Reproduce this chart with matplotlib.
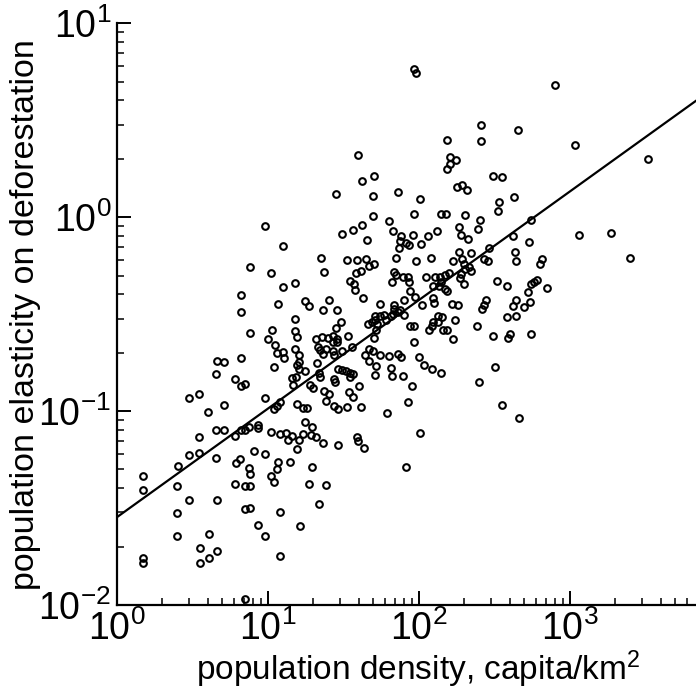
import matplotlib
matplotlib.use("Agg")
import matplotlib.pyplot as plt
import numpy as np
from matplotlib.ticker import LogLocator, NullFormatter, FixedFormatter, FixedLocator

plt.rcParams['font.family'] = ['Liberation Sans', 'DejaVu Sans']
plt.rcParams['mathtext.fontset'] = 'custom'
plt.rcParams['mathtext.rm'] = 'Liberation Sans'
plt.rcParams['mathtext.default'] = 'regular'

# values, stored as log10
# upper right cloud
logdens_1 = [1.596, 1.702, 1.626, 1.454, 1.695, 1.861, 1.695, 1.803, 1.971, 1.980,
             2.903, 2.413, 2.656, 2.185, 2.413, 3.035, 3.521, 2.207, 2.245, 2.207,
             2.189, 2.494, 2.554, 2.011, 2.256, 2.287, 2.318, 2.629, 2.532, 2.523,
             1.969, 2.148, 2.179, 2.307, 2.406, 2.742, 2.623, 2.730, 3.064, 3.272,
             3.401, 2.638, 2.646, 2.819, 2.801, 2.521, 2.587, 2.744, 2.766, 2.785,
             2.850, 2.726, 2.646, 2.735, 2.623, 2.697, 2.585, 2.644, 2.492, 2.607,
             2.591, 2.746, 2.505, 2.550, 2.664]
logelas_1 = [0.323, 0.215, 0.188, 0.121, 0.110, 0.132, 0.004, -0.022, 0.765, 0.744,
             0.682, 0.474, 0.452, 0.397, 0.395, 0.373, 0.301, 0.313, 0.297, 0.272,
             0.251, 0.211, 0.208, 0.095, 0.157, 0.167, 0.138, 0.105, 0.079, 0.031,
             0.018, 0.019, 0.015, 0.012, -0.012, -0.017, -0.098, -0.129, -0.091, -0.080,
             -0.209, -0.180, -0.228, -0.214, -0.240, -0.328, -0.356, -0.343, -0.333, -0.326,
             -0.366, -0.385, -0.429, -0.435, -0.460, -0.465, -0.517, -0.512, -0.613, -0.603,
             -0.624, -0.601, -0.775, -0.971, -1.038]

# left part
logdens_2 = [0.980, 1.099, 0.883, 1.024, 1.183, 1.101, 0.823, 1.066, 0.821, 1.183,
             0.883, 1.026, 1.179, 1.194, 1.005, 1.046, 1.062, 1.101, 1.106, 1.181,
             0.662, 0.711, 0.823, 1.044, 1.204, 1.191, 1.207, 0.660, 0.785, 0.823,
             0.852, 1.185, 1.161, 1.166, 0.481, 0.547, 0.980, 0.709, 1.194, 0.607,
             1.081, 1.062, 1.044, 0.660, 0.709, 0.821, 0.848, 0.878, 0.936, 0.938,
             0.785, 0.547, 1.024, 1.081, 1.119, 1.163, 1.132, 1.204, 0.481, 0.547,
             0.660, 0.907, 0.980, 0.787, 0.819, 1.066, 1.150, 0.404, 0.176, 0.176,
             0.401, 0.481, 0.662, 0.401, 0.401, 0.552, 0.609, 0.552, 0.609, 0.662,
             0.176, 0.176, 0.785, 0.850, 0.883, 0.878, 0.881, 0.850, 0.883, 0.936,
             0.980, 1.024, 1.044, 1.064, 1.083, 1.217, 1.083, 0.852, 1.293, 1.272,
             1.386, 1.342, 1.918]
logelas_2 = [-0.046, -0.151, -0.258, -0.287, -0.340, -0.362, -0.402, -0.446, -0.491, -0.527,
             -0.598, -0.582, -0.588, -0.620, -0.628, -0.658, -0.699, -0.696, -0.727, -0.680,
             -0.740, -0.747, -0.727, -0.775, -0.713, -0.762, -0.781, -0.809, -0.835, -0.868,
             -0.861, -0.822, -0.831, -0.866, -0.933, -0.910, -0.933, -0.967, -0.962, -1.007,
             -0.954, -0.974, -0.991, -1.098, -1.098, -1.098, -1.098, -1.084, -1.070, -1.086,
             -1.129, -1.134, -1.108, -1.116, -1.113, -1.127, -1.151, -1.151, -1.225, -1.216,
             -1.240, -1.208, -1.222, -1.270, -1.245, -1.264, -1.264, -1.285, -1.335, -1.405,
             -1.387, -1.460, -1.460, -1.527, -1.642, -1.704, -1.634, -1.784, -1.758, -1.720,
             -1.758, -1.784, -1.378, -1.385, -1.387, -1.295, -1.325, -1.503, -1.502, -1.588,
             -1.642, -1.337, -1.364, -1.301, -1.519, -1.590, -1.747, -1.969, -1.289, -1.376,
             -1.379, -1.479, -1.287]

# middle, below the line
logdens_3 = [1.318, 1.360, 1.399, 1.432, 1.459, 1.432, 1.462, 1.534, 1.704, 1.967,
             2.224, 1.335, 1.346, 1.384, 1.430, 1.437, 1.490, 1.368, 1.560, 1.671,
             1.697, 1.642, 1.746, 1.805, 1.861, 1.885, 1.209, 1.671, 1.715, 1.819,
             2.004, 2.033, 2.090, 2.146, 1.326, 1.249, 1.468, 1.492, 1.521, 1.545,
             1.565, 1.545, 1.340, 1.344, 1.441, 1.446, 1.711, 1.823, 1.894, 1.278,
             1.300, 1.607, 1.958, 2.401, 1.373, 1.408, 1.538, 1.563, 1.386, 1.931,
             1.232, 1.260, 1.437, 1.466, 1.523, 1.618, 1.788, 1.249, 1.293, 2.007,
             1.234, 1.287, 1.322, 1.364, 1.468, 1.593, 1.600, 1.640, 1.194]
logelas_3 = [-0.628, -0.619, -0.625, -0.615, -0.630, -0.643, -0.643, -0.612, -0.624, -0.646,
             -0.630, -0.670, -0.687, -0.682, -0.691, -0.713, -0.692, -0.708, -0.668, -0.678,
             -0.691, -0.709, -0.709, -0.714, -0.704, -0.720, -0.747, -0.740, -0.768, -0.776,
             -0.723, -0.761, -0.781, -0.806, -0.753, -0.792, -0.781, -0.787, -0.794, -0.804,
             -0.811, -0.825, -0.802, -0.825, -0.835, -0.852, -0.814, -0.820, -0.820, -0.864,
             -0.881, -0.871, -0.873, -0.852, -0.898, -0.914, -0.902, -0.929, -0.948, -0.954,
             -0.982, -0.986, -0.974, -0.990, -0.981, -0.979, -1.012, -1.057, -1.080, -1.111,
             -1.119, -1.122, -1.134, -1.165, -1.175, -1.136, -1.153, -1.189, -1.196]

# dense centre
logdens_4 = [1.626, 1.563, 1.490, 1.830, 2.269, 2.391, 1.658, 1.881, 1.878, 1.870,
             1.916, 1.938, 1.960, 2.015, 2.064, 2.123, 2.278, 2.325, 2.468, 1.355,
             1.523, 1.591, 1.653, 1.706, 1.671, 1.620, 1.585, 1.375, 1.852, 1.980,
             2.083, 2.229, 2.265, 2.289, 2.344, 2.298, 2.331, 2.344, 2.307, 2.432,
             2.457, 1.838, 1.852, 1.825, 1.898, 1.927, 1.938, 2.050, 2.108, 2.141,
             2.172, 2.199, 2.146, 2.136, 2.278, 2.274, 2.298, 2.093, 2.176, 2.189,
             1.547, 1.574, 1.578, 1.631, 1.942, 1.975, 2.097, 2.099, 2.219, 2.258,
             2.444, 2.430, 2.421, 1.901, 2.024, 1.247, 1.272, 1.408, 1.364, 1.461,
             1.746, 1.838, 1.838, 1.878, 1.861, 1.832, 1.819, 1.772, 1.744, 1.711,
             1.711, 1.691, 1.722, 1.662, 1.719, 1.901, 1.783, 1.483, 1.454, 1.944,
             1.969, 2.070, 2.086, 2.097, 2.126, 2.152, 2.130, 2.163, 2.185, 2.238,
             2.384]
logelas_4 = [-0.039, -0.065, -0.089, -0.072, -0.052, -0.060, -0.116, -0.099, -0.125, -0.158,
             -0.134, -0.142, -0.091, -0.139, -0.099, -0.072, -0.094, -0.113, -0.158, -0.209,
             -0.223, -0.220, -0.213, -0.240, -0.254, -0.275, -0.287, -0.284, -0.209, -0.227,
             -0.208, -0.227, -0.180, -0.214, -0.186, -0.240, -0.258, -0.280, -0.266, -0.214,
             -0.227, -0.285, -0.299, -0.335, -0.306, -0.307, -0.333, -0.309, -0.307, -0.307,
             -0.299, -0.290, -0.335, -0.357, -0.292, -0.312, -0.343, -0.357, -0.371, -0.383,
             -0.331, -0.345, -0.378, -0.415, -0.381, -0.409, -0.418, -0.443, -0.446, -0.452,
             -0.428, -0.452, -0.474, -0.426, -0.452, -0.433, -0.460, -0.429, -0.481, -0.477,
             -0.448, -0.454, -0.474, -0.477, -0.490, -0.498, -0.508, -0.502, -0.512, -0.512,
             -0.532, -0.538, -0.553, -0.549, -0.584, -0.502, -0.532, -0.541, -0.572, -0.562,
             -0.562, -0.580, -0.560, -0.541, -0.512, -0.515, -0.539, -0.584, -0.584, -0.532,
             -0.562]

# fitted power law: log10(e) = a + b*log10(d)
fit_a = -1.548
fit_b = 0.56

density = 10 ** np.array(logdens_1 + logdens_2 + logdens_3 + logdens_4)
elasticity = 10 ** np.array(logelas_1 + logelas_2 + logelas_3 + logelas_4)

xtick_labels = [r'$10^{0}$', r'$10^{1}$', r'$10^{2}$', r'$10^{3}$', '']
ytick_labels = [r'$10^{-2}$', r'$10^{-1}$', r'$10^{0}$', r'$10^{1}$']

fig = plt.figure(figsize=(6.96, 6.93), dpi=100)
# axes run to 1e4, a bit past the right edge of the figure
ax = fig.add_axes([116.7 / 696, 88 / 693, 604 / 696, 581.7 / 693])
ax.set_xscale('log')
ax.set_yscale('log')
ax.set_xlim(1, 1e4)
ax.set_ylim(1e-2, 1e1)

ax.plot(density, elasticity, 'o', ms=4.8, mfc='none', mec='black', mew=1.5, clip_on=False)

xs = np.array([1, 1e4])
ax.plot(xs, 10 ** (fit_a + fit_b * np.log10(xs)), color='black', lw=1.6)

ax.spines['top'].set_visible(False)
ax.spines['right'].set_visible(False)
for s in ['left', 'bottom']:
    ax.spines[s].set_linewidth(1.6)

ax.xaxis.set_major_locator(FixedLocator([1, 10, 100, 1000, 10000]))
ax.xaxis.set_major_formatter(FixedFormatter(xtick_labels))
ax.yaxis.set_major_locator(FixedLocator([0.01, 0.1, 1, 10]))
ax.yaxis.set_major_formatter(FixedFormatter(ytick_labels))
for axis in [ax.xaxis, ax.yaxis]:
    axis.set_minor_locator(LogLocator(base=10, subs=np.arange(2, 10)))
    axis.set_minor_formatter(NullFormatter())

ax.tick_params(which='major', direction='in', length=10, width=1.4, labelsize=27)
ax.tick_params(axis='x', which='major', pad=4)
ax.tick_params(axis='y', which='major', pad=4)
ax.tick_params(which='minor', direction='in', length=5, width=1.1)

ax.set_xlabel(r'population density, capita/km$^{2}$', fontsize=24)
ax.set_ylabel('population elasticity on deforestation', fontsize=24.5)
ax.xaxis.set_label_coords(0.5, -0.074)
ax.yaxis.set_label_coords(-0.125, 0.5)

fig.savefig('out.png', dpi=100)
